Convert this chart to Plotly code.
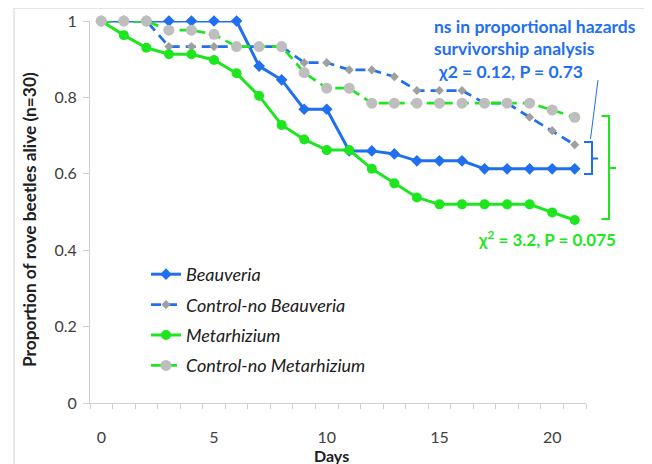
import plotly.graph_objects as go

days = list(range(22))
beauveria = [1, 1, 1, 1, 1, 1, 1, 0.882, 0.846, 0.769, 0.769, 0.660, 0.660, 0.652, 0.634, 0.634, 0.634, 0.613, 0.613, 0.613, 0.613, 0.613]
control_beauveria = [1, 1, 1, 0.933, 0.933, 0.933, 0.933, 0.933, 0.933, 0.891, 0.891, 0.872, 0.872, 0.854, 0.818, 0.818, 0.818, 0.785, 0.785, 0.748, 0.713, 0.676]
metarhizium = [1, 0.963, 0.930, 0.913, 0.913, 0.898, 0.863, 0.804, 0.728, 0.690, 0.662, 0.662, 0.613, 0.575, 0.538, 0.520, 0.520, 0.520, 0.520, 0.520, 0.499, 0.479]
control_metarhizium = [1, 1, 1, 0.976, 0.976, 0.965, 0.933, 0.933, 0.933, 0.865, 0.824, 0.824, 0.785, 0.785, 0.785, 0.785, 0.785, 0.785, 0.785, 0.785, 0.767, 0.748]
x_tick_vals = [0, 5, 10, 15, 20]
y_tick_vals = [0, 0.2, 0.4, 0.6, 0.8, 1]
y_tick_text = ["0", "0.2", "0.4", "0.6", "0.8", "1"]

BLUE = "#1F6FEF"
GREEN = "#1EE61E"
FONT = "Lato"

# page offset of the figure (browser body margin)
OFF = 8
# plot area in page pixels
L, R, T, B = 90, 586, 21, 403
W, H = 652 - OFF, 464 - OFF
def px(x):
    return (x - L) / (R - L)
def py(y):
    return (B - y) / (B - T)

fig = go.Figure()
fig.add_trace(go.Scatter(x=days, y=beauveria, name="Beauveria", mode="lines+markers",
                         line=dict(color=BLUE, width=3),
                         marker=dict(symbol="diamond", size=9, color=BLUE),
                         legendgroup="a", cliponaxis=False))
fig.add_trace(go.Scatter(x=days, y=control_beauveria, name="Control-no Beauveria", mode="lines+markers",
                         line=dict(color=BLUE, width=2.75, dash="10px,6px"),
                         marker=dict(symbol="diamond", size=7, color="#A0A0A0"),
                         legendgroup="b", cliponaxis=False))
fig.add_trace(go.Scatter(x=days, y=metarhizium, name="Metarhizium", mode="lines+markers",
                         line=dict(color=GREEN, width=3),
                         marker=dict(symbol="circle", size=10, color=GREEN),
                         legendgroup="c", cliponaxis=False))
fig.add_trace(go.Scatter(x=days, y=control_metarhizium, name="Control-no Metarhizium", mode="lines+markers",
                         line=dict(color=GREEN, width=2.75, dash="10px,6px"),
                         marker=dict(symbol="circle", size=11, color="#BEBEBE"),
                         legendgroup="d", cliponaxis=False))

shapes = []
# outer chart border
shapes.append(dict(type="rect", xref="paper", yref="paper",
                   x0=px(14), x1=px(645), y0=py(475), y1=py(8),
                   line=dict(color="#D0D0D0", width=1), layer="below"))
# blue bracket
shapes.append(dict(type="path", xref="paper", yref="paper",
                   path=f"M {px(584)} {py(142)} L {px(592)} {py(142)} L {px(592)} {py(174)} L {px(584)} {py(174)} "
                        f"M {px(592)} {py(158.5)} L {px(598)} {py(158.5)}",
                   line=dict(color=BLUE, width=2)))
# green bracket
shapes.append(dict(type="path", xref="paper", yref="paper",
                   path=f"M {px(601.5)} {py(116)} L {px(609)} {py(116)} L {px(609)} {py(219)} L {px(601.5)} {py(219)} "
                        f"M {px(609)} {py(168)} L {px(616)} {py(168)}",
                   line=dict(color=GREEN, width=2)))
# leader line
shapes.append(dict(type="line", xref="paper", yref="paper",
                   x0=px(598), y0=py(80), x1=px(590.5), y1=py(139),
                   line=dict(color=BLUE, width=1)))

annotations = [
    dict(text="<b>ns in proportional hazards</b>", x=px(432), y=py(27), xanchor="left", yanchor="middle"),
    dict(text="<b>survivorship analysis</b>", x=px(432), y=py(49), xanchor="left", yanchor="middle"),
    dict(text="<b>χ2 = 0.12, P = 0.73</b>", x=px(436), y=py(72), xanchor="left", yanchor="middle"),
]
for a in annotations:
    a.update(xref="paper", yref="paper", showarrow=False, font=dict(family=FONT, size=17.5, color=BLUE))
annotations.append(dict(text="<b>χ<sup>2</sup> = 3.2, P = 0.075</b>", x=px(618), y=py(238), xanchor="right",
                        yanchor="middle", xref="paper", yref="paper", showarrow=False,
                        font=dict(family=FONT, size=17, color=GREEN)))
# axis titles
annotations.append(dict(text="<b>Days</b>", x=px(331), y=py(455), xanchor="center", yanchor="middle",
                        xref="paper", yref="paper", showarrow=False,
                        font=dict(family=FONT, size=16, color="#202020")))
annotations.append(dict(text="<b>Proportion of rove beetles alive (n=30)</b>", x=px(29), y=py(220),
                        xanchor="center", yanchor="middle", textangle=-90,
                        xref="paper", yref="paper", showarrow=False,
                        font=dict(family=FONT, size=17.3, color="#202020")))

fig.update_layout(
    width=W, height=H,
    margin=dict(l=L - OFF, r=W - (R - OFF), t=T - OFF, b=H - (B - OFF)),
    plot_bgcolor="white", paper_bgcolor="white",
    font=dict(family=FONT, size=16, color="#404040"),
    showlegend=True,
    legend=dict(x=px(146), y=py(256), xanchor="left", yanchor="top",
                font=dict(family=FONT, size=18, color="#202020", style="italic"),
                tracegroupgap=4, bgcolor="rgba(0,0,0,0)", itemwidth=30),
    shapes=shapes, annotations=annotations,
    xaxis=dict(range=[-0.5, 21.5], tickvals=x_tick_vals, ticks="", showgrid=False, zeroline=False,
               showline=True, linecolor="#D0D0D0", linewidth=1, automargin=False,
               minor=dict(tickvals=[d - 0.5 for d in days] + [21.5], ticks="outside", ticklen=5,
                          tickcolor="#D0D0D0", showgrid=False),
               ticklabelstandoff=20),
    yaxis=dict(range=[0, 1], tickvals=y_tick_vals, ticktext=y_tick_text, ticks="outside", ticklen=6,
               tickcolor="#D0D0D0", showgrid=False, zeroline=False, showline=True, linecolor="#D0D0D0",
               linewidth=1, ticklabelstandoff=3, automargin=False),
)

fig.write_html("out.html")
